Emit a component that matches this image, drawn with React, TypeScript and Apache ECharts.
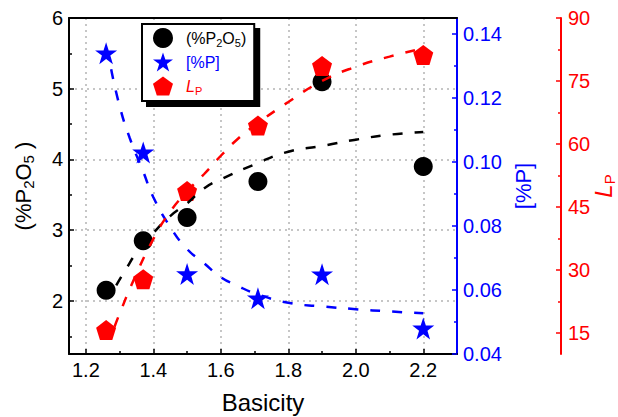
import React, { useEffect, useRef } from 'react';
import * as echarts from 'echarts';

const basicity = [1.26, 1.37, 1.5, 1.71, 1.9, 2.2];
const p2o5 = [2.15, 2.85, 3.18, 3.69, 5.1, 3.9];
const pContent = [0.134, 0.103, 0.065, 0.0574, 0.0649, 0.048];
const lp = [15.7, 27.8, 48.8, 64.4, 78.6, 81.2];

const fitP2O5X = [1.29, 1.32, 1.35, 1.4, 1.45, 1.5, 1.55, 1.6, 1.7, 1.8, 1.9, 2.0, 2.1, 2.2];
const fitP2O5Y = [2.22, 2.46, 2.68, 2.96, 3.2, 3.38, 3.59, 3.72, 3.93, 4.11, 4.19, 4.28, 4.35, 4.39];

const fitPX = [1.275, 1.3, 1.33, 1.37, 1.4, 1.45, 1.5, 1.55, 1.6, 1.65, 1.7, 1.8, 1.9, 2.0, 2.1, 2.2];
const fitPY = [0.129, 0.1175, 0.1075, 0.097, 0.089, 0.0797, 0.0728, 0.0684, 0.064, 0.0613, 0.059, 0.056, 0.0549, 0.054, 0.0533, 0.0527];

const fitLpX = [1.285, 1.3, 1.34, 1.4, 1.45, 1.5, 1.55, 1.6, 1.65, 1.7, 1.8, 1.9, 2.0, 2.1, 2.2];
const fitLpY = [16.5, 19.6, 27.3, 37.4, 43.9, 48.7, 52.8, 57.2, 61.2, 64.4, 70.0, 75.0, 78.4, 80.8, 82.8];

const xMajor = [1.2, 1.4, 1.6, 1.8, 2.0, 2.2];
const xMinor = [1.3, 1.5, 1.7, 1.9, 2.1];
const leftMajor = [2, 3, 4, 5, 6];
const leftMinor = [1.5, 2.5, 3.5, 4.5, 5.5];
const blueMajor = [0.04, 0.06, 0.08, 0.1, 0.12, 0.14];
const blueMinor = [0.05, 0.07, 0.09, 0.11, 0.13];
const redMajor = [15, 30, 45, 60, 75, 90];
const redMinor = [22.5, 37.5, 52.5, 67.5, 82.5];

const FONT = 'Liberation Sans, Arial, sans-serif';
const BLUE = '#0000ff';
const RED = '#ff0000';
const STAR = 'path://M50,0 L61.8,35.4 L100,35.4 L69.1,57.3 L80.9,95.1 L50,72.4 L19.1,95.1 L30.9,57.3 L0,35.4 L38.2,35.4 Z';
const PENTAGON = 'path://M50,0 L100,36.3 L80.9,95.1 L19.1,95.1 L0,36.3 Z';

const zip = (xs: number[], ys: number[]) => xs.map((x, i) => [x, ys[i]]);

function minorAxis(min: number, max: number, values: number[], position: string, offset = 0, color = '#000') {
  return {
    type: 'value', min, max, position, offset,
    axisLine: { show: false, onZero: false },
    axisTick: { show: true, inside: true, length: 3, customValues: values, lineStyle: { color, width: 1.5 } },
    axisLabel: { show: false },
    splitLine: { show: false },
  };
}

export default function App() {
  const ref = useRef<HTMLDivElement>(null);
  useEffect(() => {
    if (!ref.current) return;
    const chart = echarts.init(ref.current, null, { renderer: 'svg' });
    const option: any = {
      animation: false,
      backgroundColor: '#fff',
      textStyle: { fontFamily: FONT },
      grid: { left: 69, right: 161, top: 18, bottom: 63, show: false, containLabel: false, outerBoundsMode: 'none' },
      legend: {
        orient: 'vertical',
        left: 142,
        top: 24,
        itemWidth: 20,
        itemHeight: 20,
        itemGap: 4,
        padding: [4, 8, 5, 11],
        borderColor: '#000',
        borderWidth: 2,
        backgroundColor: '#fff',
        shadowColor: '#000',
        shadowOffsetX: 5,
        shadowOffsetY: 5,
        shadowBlur: 0,
        selectedMode: false,
        data: [
          { name: 'P2O5', textStyle: { color: '#000' } },
          { name: 'P', textStyle: { color: BLUE } },
          { name: 'LP', textStyle: { color: RED } },
        ],
        formatter: (n: string) => (n === 'P2O5' ? '(%P{sub|2}O{sub|5})' : n === 'P' ? '[%P]' : '{it|L}{sub|P}'),
        textStyle: {
          fontFamily: FONT,
          fontSize: 16,
          lineHeight: 20,
          padding: [0, 0, 0, 8],
          rich: {
            sub: { fontSize: 11, lineHeight: 8, verticalAlign: 'bottom', fontFamily: FONT },
            it: { fontSize: 16, fontStyle: 'italic', fontFamily: FONT },
          },
        },
      },
      xAxis: [
        {
          type: 'value', min: 1.15, max: 2.3, position: 'bottom',
          axisLine: { show: true, onZero: false, lineStyle: { color: '#000', width: 2 } },
          axisTick: { show: true, inside: true, length: 5, customValues: xMajor, lineStyle: { color: '#000', width: 1.5 } },
          axisLabel: { customValues: xMajor, formatter: (v: number) => v.toFixed(1), color: '#000', fontSize: 20, fontFamily: FONT, margin: 6 },
          splitLine: { show: true, lineStyle: { type: [2, 4], color: '#b4b4b4', width: 1.5 } },
          name: 'Basicity', nameLocation: 'middle', nameGap: 36,
          nameTextStyle: { fontSize: 24, color: '#000', fontFamily: FONT },
        },
        minorAxis(1.15, 2.3, xMinor, 'bottom'),
        {
          type: 'value', min: 1.15, max: 2.3, position: 'top',
          axisLine: { show: true, onZero: false, lineStyle: { color: '#000', width: 2 } },
          axisTick: { show: false }, axisLabel: { show: false }, splitLine: { show: false },
        },
      ],
      yAxis: [
        {
          type: 'value', min: 1.25, max: 6, position: 'left',
          axisLine: { show: true, onZero: false, lineStyle: { color: '#000', width: 2 } },
          axisTick: { show: true, inside: true, length: 5, customValues: leftMajor, lineStyle: { color: '#000', width: 1.5 } },
          axisLabel: { customValues: leftMajor, color: '#000', fontSize: 20, fontFamily: FONT, margin: 6 },
          splitLine: { show: true, lineStyle: { type: [2, 4], color: '#b4b4b4', width: 1.5 } },
          name: '(%P{sub|2}O{sub|5} )', nameLocation: 'middle', nameGap: 33,
          nameTextStyle: {
            fontSize: 22, color: '#000', fontFamily: FONT, lineHeight: 26,
            rich: { sub: { fontSize: 15, lineHeight: 10, verticalAlign: 'bottom', fontFamily: FONT } },
          },
        },
        minorAxis(1.25, 6, leftMinor, 'left'),
        {
          type: 'value', min: 0.04, max: 0.145, position: 'right',
          axisLine: { show: true, onZero: false, lineStyle: { color: BLUE, width: 2 } },
          axisTick: { show: true, inside: true, length: 5, customValues: blueMajor, lineStyle: { color: BLUE, width: 1.5 } },
          axisLabel: { customValues: blueMajor, formatter: (v: number) => v.toFixed(2), color: BLUE, fontSize: 20, fontFamily: FONT, margin: 6 },
          splitLine: { show: false },
          name: '[%P]', nameLocation: 'middle', nameGap: 55, nameRotate: 90, nameMoveOverlap: false,
          nameTextStyle: { fontSize: 22, color: BLUE, fontFamily: FONT },
        },
        minorAxis(0.04, 0.145, blueMinor, 'right', 0, BLUE),
        {
          type: 'value', min: 10, max: 90, position: 'right', offset: 104,
          axisLine: { show: true, onZero: false, lineStyle: { color: RED, width: 2 } },
          axisTick: { show: true, inside: true, length: 5, customValues: redMajor, lineStyle: { color: RED, width: 1.5 } },
          axisLabel: { customValues: redMajor, color: RED, fontSize: 20, fontFamily: FONT, margin: 7 },
          splitLine: { show: false },
          name: '{it|L}{sub|P}', nameLocation: 'middle', nameGap: 28, nameRotate: 90, nameMoveOverlap: false,
          nameTextStyle: {
            fontSize: 24, color: RED, fontFamily: FONT, lineHeight: 28,
            rich: {
              it: { fontSize: 24, fontStyle: 'italic', fontFamily: FONT, color: RED },
              sub: { fontSize: 15, lineHeight: 10, verticalAlign: 'bottom', fontFamily: FONT, color: RED },
            },
          },
        },
        minorAxis(10, 90, redMinor, 'right', 104, RED),
      ],
      series: [
        {
          name: 'P2O5', type: 'scatter', xAxisIndex: 0, yAxisIndex: 0,
          symbol: 'circle', symbolSize: 19, itemStyle: { color: '#000', opacity: 1 },
          data: zip(basicity, p2o5), z: 3,
        },
        {
          name: 'P', type: 'scatter', xAxisIndex: 0, yAxisIndex: 2,
          symbol: STAR, symbolSize: 22, itemStyle: { color: BLUE, opacity: 1 },
          data: zip(basicity, pContent), z: 3,
        },
        {
          name: 'LP', type: 'scatter', xAxisIndex: 0, yAxisIndex: 4,
          symbol: PENTAGON, symbolSize: 20, itemStyle: { color: RED, opacity: 1 },
          data: zip(basicity, lp), z: 3,
        },
        {
          name: 'fitP2O5', type: 'line', xAxisIndex: 0, yAxisIndex: 0, smooth: true, showSymbol: false,
          lineStyle: { color: '#000', width: 2.5, type: [10, 12] }, data: zip(fitP2O5X, fitP2O5Y), z: 4,
        },
        {
          name: 'fitP', type: 'line', xAxisIndex: 0, yAxisIndex: 2, smooth: true, showSymbol: false,
          lineStyle: { color: BLUE, width: 2.5, type: [10, 12] }, data: zip(fitPX, fitPY), z: 4,
        },
        {
          name: 'fitLP', type: 'line', xAxisIndex: 0, yAxisIndex: 4, smooth: true, showSymbol: false,
          lineStyle: { color: RED, width: 2.5, type: [10, 12] }, data: zip(fitLpX, fitLpY), z: 4,
        },
      ],
    };
    chart.setOption(option);
    return () => chart.dispose();
  }, []);
  return <div ref={ref} style={{ position: 'fixed', left: 0, top: 0, width: 618, height: 417 }} />;
}
